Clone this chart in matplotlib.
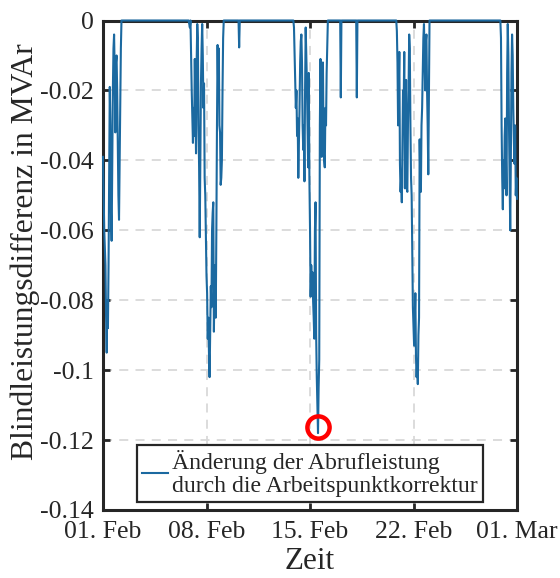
import numpy as np
import matplotlib
matplotlib.use("Agg")
import matplotlib.pyplot as plt

plt.rcParams['font.family'] = ['Liberation Serif', 'DejaVu Serif']

# hours since 01 Feb 2021 00:00 and reactive power difference in MVAr
hours = [0, 2, 4, 5, 6, 7, 8, 9, 10, 11, 12, 13, 14, 15, 16, 17, 18, 19, 20, 21, 22, 23, 24, 25, 26, 27, 28, 29, 30,
         139, 141, 142, 143, 144, 145, 146, 147, 148, 149, 150, 151, 152, 153, 154, 155, 156, 157, 158, 159, 160, 161,
         162, 163, 164, 165, 166, 167, 168, 169, 170, 171, 172, 173, 174, 175, 176, 177, 178, 179, 180, 181, 182, 183,
         184, 185, 186, 187, 188, 189, 190, 191, 192, 193, 194, 195, 196, 220, 221, 222,
         309, 310, 311, 312, 313, 314, 315, 316, 317, 318, 319, 320, 321, 322, 323, 324, 325, 326, 327, 328, 329, 330,
         331, 332, 333, 334, 335, 336, 337, 338, 339, 340, 341, 342, 343, 344, 345, 346, 347, 348, 349, 350, 351, 352,
         353, 354, 355, 356, 357, 358, 359, 360, 361, 362, 363, 364, 365, 385, 386, 387, 411, 412, 413,
         476, 477, 478, 479, 480, 481, 482, 483, 484, 485, 486, 487, 488, 489, 490, 491, 492, 493, 494, 495, 496, 497,
         498, 499, 500, 501, 502, 503, 504, 505, 506, 507, 508, 509, 510, 511, 512, 513, 514, 515, 516, 517, 518, 519,
         520, 521, 522, 523, 524, 525, 526, 527, 528, 529, 530,
         645, 646, 647, 648, 649, 650, 651, 652, 653, 654, 655, 656, 657, 658, 659, 660, 661, 662, 663, 664, 665, 666,
         667, 668, 669, 670, 671, 672]
values = [-0.039, -0.060, -0.070, -0.085, -0.095, -0.080, -0.088, -0.070, -0.045, -0.019, -0.030, -0.055, -0.063,
          -0.040, -0.020, -0.008, -0.004, -0.015, -0.032, -0.012, -0.010, -0.020, -0.035, -0.050, -0.057, -0.040,
          -0.020, -0.008, 0.0,
          0.0, -0.002, 0.0, -0.010, -0.020, -0.028, -0.035, -0.025, -0.033, -0.011, -0.025, -0.038, -0.012, -0.001,
          -0.005, -0.030, -0.042, -0.062, -0.040, -0.018, -0.008, -0.001, -0.010, -0.025, -0.018, -0.045, -0.050,
          -0.062, -0.073, -0.078, -0.091, -0.085, -0.095, -0.102, -0.088, -0.076, -0.082, -0.060, -0.055, -0.052,
          -0.089, -0.075, -0.070, -0.085, -0.060, -0.030, -0.007, -0.020, -0.008, -0.030, -0.032, -0.047, -0.045,
          -0.040, -0.020, -0.005, 0.0, 0.0, -0.0077, 0.0,
          0.0, -0.002, -0.010, -0.018, -0.025, -0.020, -0.033, -0.028, -0.045, -0.035, -0.025, -0.012, -0.006,
          -0.004, -0.012, -0.030, -0.037, -0.030, -0.046, -0.020, -0.002, -0.010, -0.018, -0.030, -0.042, -0.015,
          -0.045, -0.059, -0.079, -0.070, -0.077, -0.072, -0.080, -0.085, -0.091, -0.060, -0.052, -0.090, -0.102,
          -0.110, -0.118, -0.105, -0.097, -0.030, -0.011, -0.025, -0.039, -0.020, -0.012, -0.035, -0.040, -0.042,
          -0.025, -0.030, -0.015, -0.008, 0.0, 0.0, -0.022, 0.0, 0.0, -0.022, 0.0,
          0.0, -0.003, -0.012, -0.030, -0.020, -0.009, -0.041, -0.049, -0.045, -0.052, -0.035, -0.020, -0.025,
          -0.009, -0.048, -0.030, -0.017, -0.048, -0.049, -0.030, -0.020, -0.004, -0.008, -0.030, -0.045, -0.050,
          -0.065, -0.082, -0.088, -0.093, -0.085, -0.078, -0.096, -0.102, -0.098, -0.104, -0.090, -0.085, -0.034,
          -0.045, -0.049, -0.030, -0.025, -0.015, -0.005, -0.001, -0.010, -0.020, -0.006, -0.004, -0.020, -0.030,
          -0.044, -0.020, 0.0,
          0.0, -0.005, -0.030, -0.045, -0.054, -0.040, -0.048, -0.033, -0.028, -0.040, -0.050, -0.015, -0.001,
          -0.010, -0.030, -0.045, -0.060, -0.040, -0.015, -0.004, -0.010, -0.025, -0.035, -0.041, -0.030, -0.050,
          -0.045, -0.051]

marker_hour = 349.4
marker_value = -0.1162

yticks = [0, -0.02, -0.04, -0.06, -0.08, -0.1, -0.12, -0.14]
ytick_labels = ['0', '-0.02', '-0.04', '-0.06', '-0.08', '-0.1', '-0.12', '-0.14']
xtick_dates = ['2021-02-01', '2021-02-08', '2021-02-15', '2021-02-22', '2021-03-01']
xtick_labels = ['01. Feb', '08. Feb', '15. Feb', '22. Feb', '01. Mar']

start = np.datetime64('2021-02-01T00:00')
t = start + np.array(hours).astype('timedelta64[h]')
t_marker = start + np.timedelta64(int(marker_hour * 60), 'm')

fig = plt.figure(figsize=(5.6, 5.78), dpi=100)
ax = fig.add_axes([103 / 560, 1 - 510 / 578, (517 - 103) / 560, (510 - 20.5) / 578])

line_color = '#1b69a0'
ax.plot(t, values, color=line_color, lw=1.5, zorder=3, clip_on=False,
        label='Änderung der Abrufleistung\ndurch die Arbeitspunktkorrektur')
ax.plot([t_marker], [marker_value], 'o', ms=16, mfc='none', mec='#ff0000', mew=3.2, zorder=4)

ax.set_xlim(np.datetime64('2021-02-01'), np.datetime64('2021-03-01'))
ax.set_ylim(-0.14, 0)
xt = [np.datetime64(d) for d in xtick_dates]
ax.set_xticks(xt)
ax.set_xticklabels(xtick_labels)
ax.set_yticks(yticks)
ax.set_yticklabels(ytick_labels)

ax.grid(True, color='#d9d9d9', linestyle=(0, (5, 4)), linewidth=1.3)
ax.set_axisbelow(True)
for s in ax.spines.values():
    s.set_linewidth(2.2)
    s.set_color('#262626')
    s.set_zorder(2.5)
ax.tick_params(direction='in', length=5, width=2, top=True, right=True,
               labelsize=18.5, colors='#262626')
ax.tick_params(axis='y', pad=6.5)
ax.tick_params(axis='x', pad=8)

ax.set_xlabel('Zeit', fontsize=22.5, color='#262626', labelpad=3)
ax.set_ylabel('Blindleistungsdifferenz in MVAr', fontsize=22.8, color='#262626')
ax.yaxis.set_label_coords(-0.153, 0.528)

leg = ax.legend(loc='lower center', bbox_to_anchor=(0.5, 0.0), borderaxespad=0.33,
                fontsize=17.1, frameon=True, fancybox=False, framealpha=1,
                handlelength=1.1, handletextpad=0.15, borderpad=0.22, labelspacing=0.1)
leg.get_frame().set_edgecolor('#262626')
leg.get_frame().set_linewidth(1.6)
for txt in leg.get_texts():
    txt.set_color('#262626')
    txt.set_linespacing(1.12)

fig.savefig('out.png', dpi=100)
